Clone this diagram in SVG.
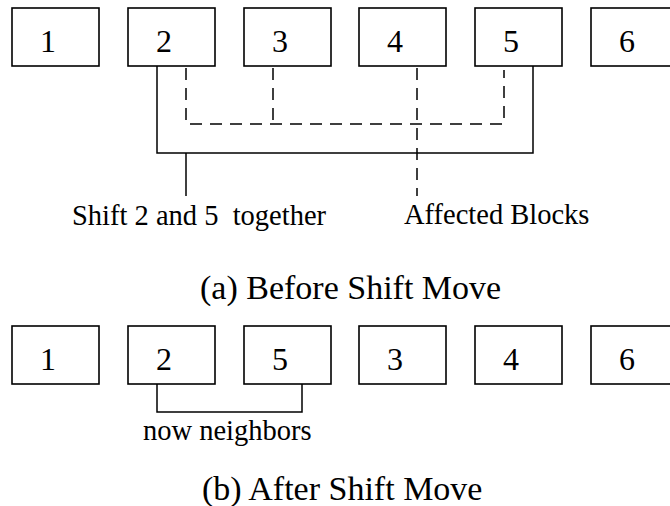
<svg xmlns="http://www.w3.org/2000/svg" width="670" height="506" viewBox="0 0 670 506">
  <style>
    .box { fill: #ffffff; stroke: #000000; stroke-width: 1.6; }
    .num { font-family: "Liberation Serif", "Times New Roman", serif; font-size: 32px; text-anchor: middle; fill: #000000; }
    .lbl { font-family: "Liberation Serif", "Times New Roman", serif; font-size: 28.5px; fill: #000000; white-space: pre; }
    .cap { font-family: "Liberation Serif", "Times New Roman", serif; font-size: 34px; fill: #000000; }
    .solid { fill: none; stroke: #000000; stroke-width: 1.5; }
    .dash { fill: none; stroke: #000000; stroke-width: 1.5; stroke-dasharray: 12 8; }
  </style>

  <!-- (a) block order before the move -->
  <g id="a1"><rect class="box" x="12" y="8" width="87" height="58"/><text class="num" x="48" y="52">1</text></g>
  <g id="a2"><rect class="box" x="128" y="8" width="87" height="58"/><text class="num" x="164" y="52">2</text></g>
  <g id="a3"><rect class="box" x="244" y="8" width="87" height="58"/><text class="num" x="280" y="52">3</text></g>
  <g id="a4"><rect class="box" x="359" y="8" width="87" height="58"/><text class="num" x="395" y="52">4</text></g>
  <g id="a5"><rect class="box" x="475" y="8" width="87" height="58"/><text class="num" x="511" y="52">5</text></g>
  <g id="a6"><rect class="box" x="591" y="8" width="87" height="58"/><text class="num" x="627" y="52">6</text></g>

  <g id="connectors-a">
    <!-- blocks moved together -->
    <path class="solid" d="M157,66 V153 H533 V66"/>
    <path class="solid" d="M186,153 V196"/>
    <!-- affected blocks -->
    <path class="dash" d="M186,68 V124 H504 V70"/>
    <path class="dash" d="M273,68 V124"/>
    <path class="dash" d="M417,68 V196"/>
  </g>

  <text class="lbl" x="72" y="225">Shift 2 and 5  together</text>
  <text class="lbl" x="404" y="224">Affected Blocks</text>
  <text class="cap" x="200" y="299">(a) Before Shift Move</text>

  <!-- (b) block order after the move -->
  <g id="b1"><rect class="box" x="12" y="326" width="87" height="58"/><text class="num" x="48" y="370">1</text></g>
  <g id="b2"><rect class="box" x="128" y="326" width="87" height="58"/><text class="num" x="164" y="370">2</text></g>
  <g id="b5"><rect class="box" x="244" y="326" width="87" height="58"/><text class="num" x="280" y="370">5</text></g>
  <g id="b3"><rect class="box" x="359" y="326" width="87" height="58"/><text class="num" x="395" y="370">3</text></g>
  <g id="b4"><rect class="box" x="475" y="326" width="87" height="58"/><text class="num" x="511" y="370">4</text></g>
  <g id="b6"><rect class="box" x="591" y="326" width="87" height="58"/><text class="num" x="627" y="370">6</text></g>

  <g id="connectors-b">
    <path class="solid" d="M157,384 V412 H302 V384"/>
  </g>

  <text class="lbl" x="143" y="440">now neighbors</text>
  <text class="cap" x="202" y="500">(b) After Shift Move</text>
</svg>
